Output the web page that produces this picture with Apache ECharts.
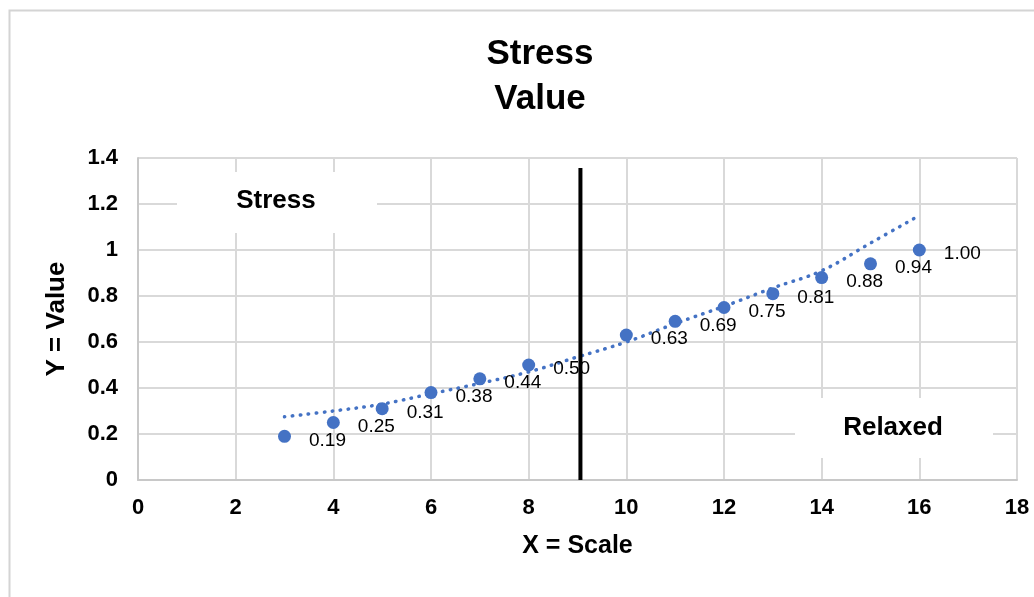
<!DOCTYPE html>
<html>
<head>
<meta charset="utf-8">
<script src="https://cdn.jsdelivr.net/npm/echarts@6/dist/echarts.min.js"></script>
<style>
html,body{margin:0;padding:0;background:#fff;}
#chart{width:1034px;height:597px;}
</style>
</head>
<body>
<div id="chart"></div>
<script>
// Data
const xValues = [3, 4, 5, 6, 7, 8, 10, 11, 12, 13, 14, 15, 16];
const yValues = [0.19, 0.25, 0.31, 0.38, 0.44, 0.50, 0.63, 0.69, 0.75, 0.81, 0.88, 0.94, 1.00];
const trendX = [3, 4, 5, 6, 7, 8, 9, 10, 11, 12, 13, 14, 15, 16];
const trendY = [0.275, 0.30, 0.33, 0.375, 0.42, 0.47, 0.535, 0.60, 0.68, 0.755, 0.835, 0.91, 1.03, 1.15];
const dividerX = [9.06, 9.06];
const dividerY = [0, 1.356];
const titleText = 'Stress\nValue';
const xName = 'X = Scale';
const yName = 'Y = Value';
const zoneLabels = ['Stress', 'Relaxed'];

const FONT = '"Liberation Sans", Arial, sans-serif';
const BLUE = '#4472C4';
const GRID = '#d9d9d9';

const chart = echarts.init(document.getElementById('chart'), null, {renderer: 'canvas'});

const pointData = xValues.map((x, i) => [x, yValues[i]]);
const trendData = trendX.map((x, i) => [x, trendY[i]]);
const dividerData = dividerX.map((x, i) => [x, dividerY[i]]);

chart.setOption({
  animation: false,
  backgroundColor: '#fff',
  textStyle: {fontFamily: FONT},
  title: {
    text: titleText,
    left: 535,
    top: 27,
    textAlign: 'center',
    textStyle: {fontFamily: FONT, fontSize: 35, fontWeight: 'bold', color: '#000', lineHeight: 45}
  },
  grid: {left: 138, right: 17, top: 158, bottom: 117, containLabel: false},
  xAxis: {
    type: 'value', min: 0, max: 18, interval: 2,
    name: xName, nameLocation: 'middle', nameGap: 54,
    nameTextStyle: {fontFamily: FONT, fontSize: 25, fontWeight: 'bold', color: '#000'},
    axisLine: {show: true, lineStyle: {color: '#c8c8c8', width: 2}},
    axisTick: {show: false},
    axisLabel: {margin: 17, fontFamily: FONT, fontSize: 22, fontWeight: 'bold', color: '#000'},
    splitLine: {show: true, lineStyle: {color: GRID, width: 2}}
  },
  yAxis: {
    type: 'value', min: 0, max: 1.4, interval: 0.2,
    name: yName, nameLocation: 'middle', nameGap: 68, nameRotate: 90,
    nameTextStyle: {fontFamily: FONT, fontSize: 26, fontWeight: 'bold', color: '#000'},
    axisLine: {show: true, lineStyle: {color: '#c8c8c8', width: 2}},
    axisTick: {show: false},
    axisLabel: {margin: 20, fontFamily: FONT, fontSize: 22, fontWeight: 'bold', color: '#000'},
    splitLine: {show: true, lineStyle: {color: GRID, width: 2}}
  },
  graphic: [
    {type: 'rect', left: 7, top: 8, z: 0, silent: true,
     shape: {width: 1040, height: 600}, style: {fill: 'none', stroke: '#d4d4d4', lineWidth: 2}},
    {type: 'rect', left: 177, top: 172, z: 1, silent: true,
     shape: {width: 200, height: 61}, style: {fill: '#fff'}},
    {type: 'text', x: 276, y: 201, z: 1, silent: true,
     style: {text: zoneLabels[0], fill: '#000', font: 'bold 26px ' + FONT, align: 'center', verticalAlign: 'middle'}},
    {type: 'rect', left: 795, top: 398, z: 1, silent: true,
     shape: {width: 198, height: 60}, style: {fill: '#fff'}},
    {type: 'text', x: 893, y: 428, z: 1, silent: true,
     style: {text: zoneLabels[1], fill: '#000', font: 'bold 26px ' + FONT, align: 'center', verticalAlign: 'middle'}}
  ],
  series: [
    {
      name: 'Trend', type: 'line', data: trendData, smooth: 0.4, showSymbol: false, z: 3,
      lineStyle: {color: BLUE, width: 3.5, opacity: 1, type: [0.5, 7.5], cap: 'round'}
    },
    {
      name: 'Divider', type: 'line', data: dividerData, showSymbol: false, z: 5,
      lineStyle: {color: '#000', width: 4}
    },
    {
      name: 'Stress Value', type: 'scatter', data: pointData, symbol: 'circle', symbolSize: 13, z: 4,
      itemStyle: {color: BLUE, opacity: 1},
      label: {
        show: true, position: 'right', distance: 18, offset: [0, 4],
        formatter: p => p.value[1].toFixed(2),
        fontFamily: FONT, fontSize: 19, color: '#000'
      }
    }
  ]
});
</script>
</body>
</html>
